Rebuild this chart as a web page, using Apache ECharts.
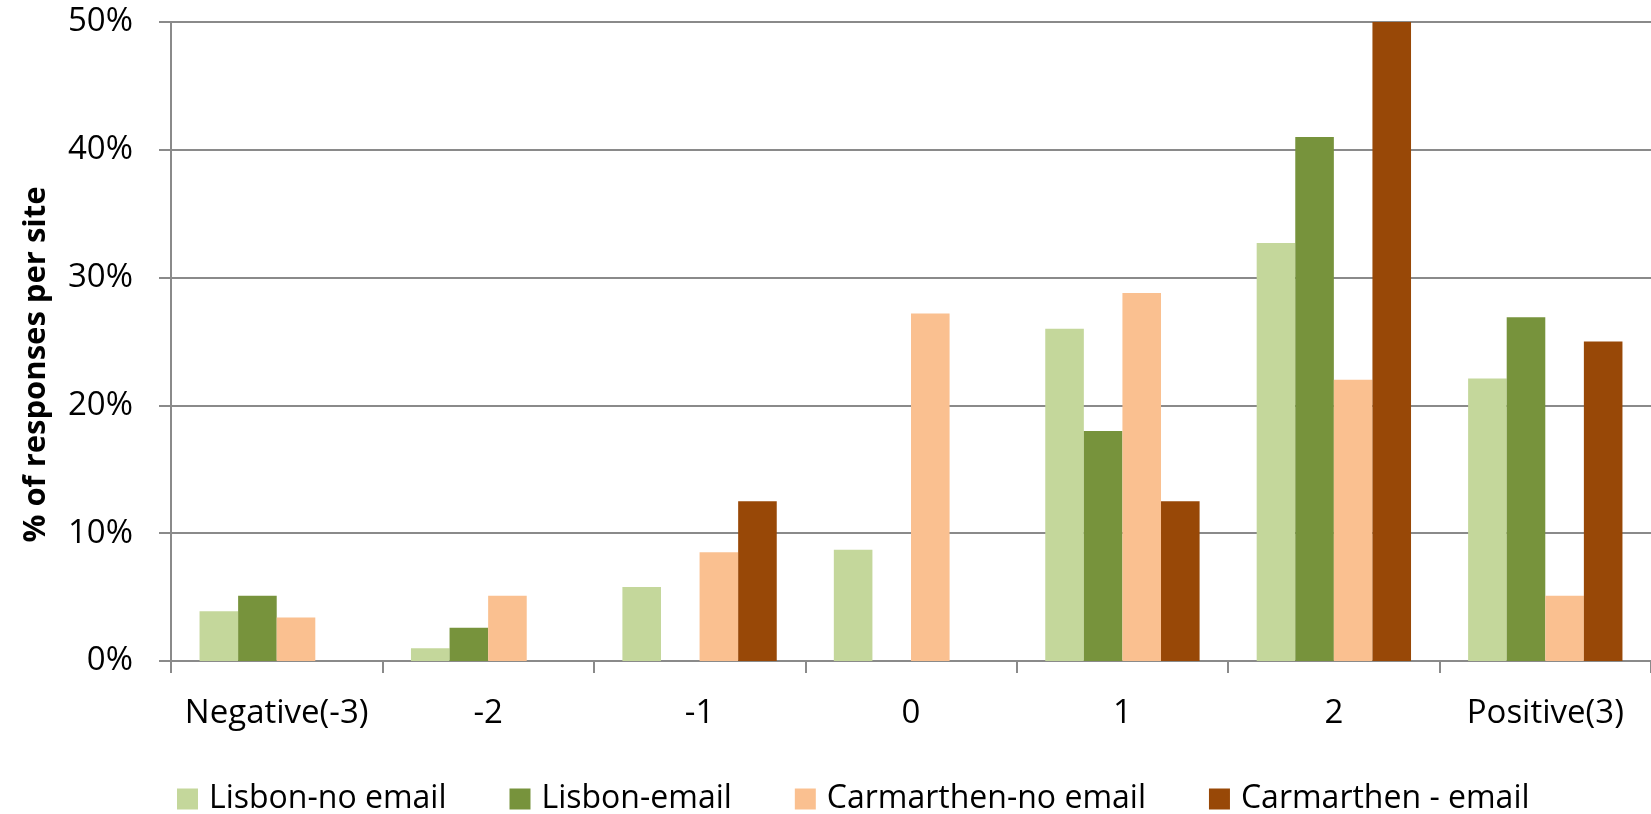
<!DOCTYPE html>
<html>
<head>
<meta charset="utf-8">
<script src="https://cdn.jsdelivr.net/npm/echarts@6/dist/echarts.min.js"></script>
<style>
  html, body { margin: 0; padding: 0; background: #fff; }
  #chart { width: 1651px; height: 814px; }
</style>
</head>
<body>
<div id="chart"></div>
<script>
  // categories on the x axis
  const categories = ['Negative(-3)', '-2', '-1', '0', '1', '2', 'Positive(3)']

  // % of responses per site
  const lisbonNoEmail = [3.9, 1.0, 5.8, 8.7, 26.0, 32.7, 22.1]
  const lisbonEmail = [5.1, 2.6, 0, 0, 18.0, 41.0, 26.9]
  const carmarthenNoEmail = [3.4, 5.1, 8.5, 27.2, 28.8, 22.0, 5.1]
  const carmarthenEmail = [0, 0, 12.5, 0, 12.5, 50.0, 25.0]

  const seriesNames = ['Lisbon-no email', 'Lisbon-email', 'Carmarthen-no email', 'Carmarthen - email']
  const seriesColors = ['#C4D79B', '#77933C', '#FAC090', '#984807']
  const seriesData = [lisbonNoEmail, lisbonEmail, carmarthenNoEmail, carmarthenEmail]

  const fontFamily = '"Open Sans", "Liberation Sans", sans-serif'
  const gridColor = '#8a8a8a'

  const chart = echarts.init(document.getElementById('chart'))

  chart.setOption({
    animation: false,
    textStyle: { fontFamily: fontFamily, color: '#000' },
    grid: { left: 171, right: 0, top: 22, bottom: 153, containLabel: false },
    legend: {
      top: 778,
      left: 172,
      padding: 5,
      itemWidth: 21,
      itemHeight: 21,
      itemGap: 63,
      icon: 'rect',
      textStyle: { fontSize: 32, color: '#000', fontFamily: fontFamily, padding: [0, 0, 0, 6] },
      data: seriesNames
    },
    xAxis: {
      type: 'category',
      data: categories,
      axisLine: { lineStyle: { color: gridColor, width: 2 } },
      axisTick: { show: true, length: 12, lineStyle: { color: gridColor, width: 2 } },
      axisLabel: { fontSize: 33, color: '#000', margin: 36, interval: 0 }
    },
    yAxis: {
      type: 'value',
      min: 0,
      max: 50,
      interval: 10,
      name: '% of responses per site',
      nameLocation: 'middle',
      nameGap: 119,
      nameTextStyle: { fontSize: 31, fontWeight: 'bold', color: '#000', padding: [0, 46, 0, 0] },
      axisLine: { show: true, lineStyle: { color: gridColor, width: 2 } },
      axisTick: { show: true, length: 12, lineStyle: { color: gridColor, width: 2 } },
      splitLine: { lineStyle: { color: gridColor, width: 2 } },
      axisLabel: { fontSize: 33, color: '#000', margin: 38, formatter: '{value}%' }
    },
    series: seriesNames.map((name, i) => ({
      name: name,
      type: 'bar',
      data: seriesData[i],
      barGap: '0%',
      barCategoryGap: '27%',
      itemStyle: { color: seriesColors[i] }
    }))
  })
</script>
</body>
</html>
